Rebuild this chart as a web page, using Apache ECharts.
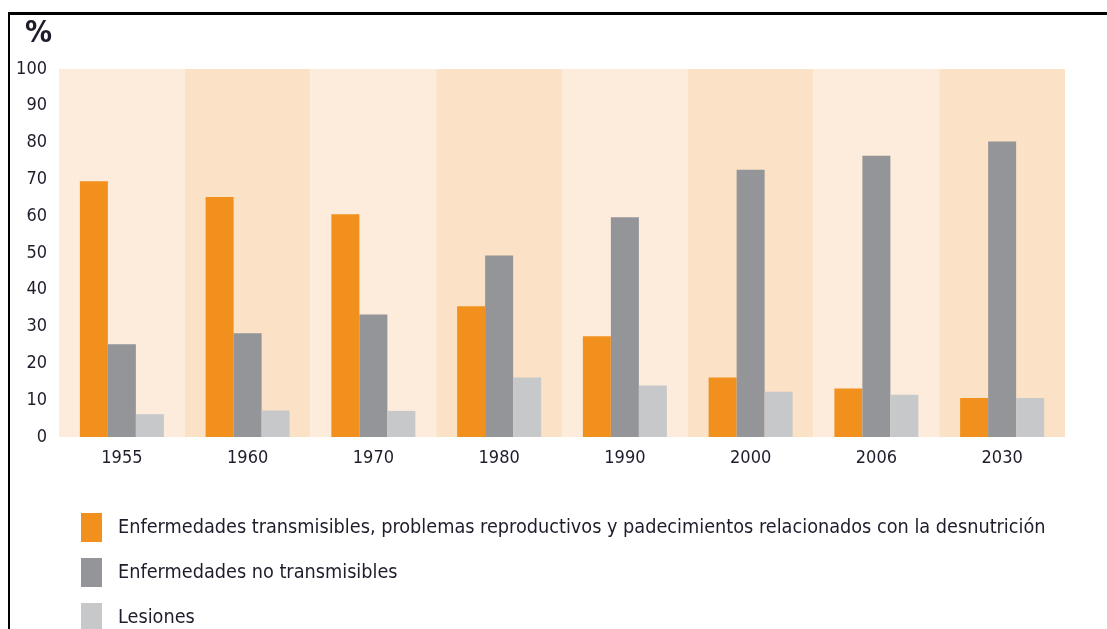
<!DOCTYPE html>
<html>
<head>
<meta charset="utf-8">
<script src="https://cdn.jsdelivr.net/npm/echarts@6/dist/echarts.min.js"></script>
<style>
  html, body { margin: 0; padding: 0; background: #fff; }
  #chart { width: 1107px; height: 629px; }
</style>
</head>
<body>
<div id="chart"></div>
<script>
// años
const years = ['1955', '1960', '1970', '1980', '1990', '2000', '2006', '2030']

// porcentajes por grupo de causas
const transmisibles = [69.5, 65.2, 60.5, 35.5, 27.4, 16.2, 13.2, 10.6]
const noTransmisibles = [25.2, 28.2, 33.3, 49.3, 59.7, 72.6, 76.4, 80.3]
const lesiones = [6.2, 7.2, 7.1, 16.2, 14.0, 12.3, 11.5, 10.6]

const seriesNames = [
  'Enfermedades transmisibles, problemas reproductivos y padecimientos relacionados con la desnutrición',
  'Enfermedades no transmisibles',
  'Lesiones'
]

const textColor = '#1d1d2c'
const narrow = '"DejaVu Sans Condensed", sans-serif'

const chart = echarts.init(document.getElementById('chart'))

chart.setOption({
  animation: false,
  backgroundColor: '#fff',
  grid: { left: 59, right: 42, top: 69, bottom: 192 },
  legend: {
    orient: 'vertical',
    left: 76,
    top: 508,
    height: 160,
    itemWidth: 21,
    itemHeight: 29,
    itemGap: 16,
    icon: 'rect',
    textStyle: {
      fontFamily: narrow,
      fontSize: 19.7,
      color: textColor,
      padding: [2, 0, 0, 11]
    },
    data: seriesNames
  },
  xAxis: {
    type: 'category',
    data: years,
    axisLine: { show: false },
    axisTick: { show: false },
    axisLabel: { margin: 12, fontSize: 18, fontFamily: narrow, color: textColor },
    splitArea: { show: true, areaStyle: { color: ['#fdecdc', '#fbe1c5'] } }
  },
  yAxis: {
    type: 'value',
    min: 0,
    max: 100,
    interval: 10,
    axisLine: { show: false },
    axisTick: { show: false },
    axisLabel: { margin: 12, fontSize: 18, fontFamily: narrow, color: textColor },
    splitLine: { show: true, lineStyle: { color: '#ffffff', width: 2 } }
  },
  series: [
    { name: seriesNames[0], type: 'bar', data: transmisibles, barWidth: 28, barGap: '0%', itemStyle: { color: '#f2901e' } },
    { name: seriesNames[1], type: 'bar', data: noTransmisibles, barWidth: 28, barGap: '0%', itemStyle: { color: '#939598' } },
    { name: seriesNames[2], type: 'bar', data: lesiones, barWidth: 28, barGap: '0%', itemStyle: { color: '#c7c8ca' } }
  ],
  graphic: [
    { type: 'rect', shape: { x: 8, y: 12, width: 1099, height: 3 }, style: { fill: '#000' } },
    { type: 'rect', shape: { x: 8, y: 12, width: 2, height: 617 }, style: { fill: '#000' } },
    {
      type: 'text', left: 25, top: 19,
      style: { text: '%', fontSize: 30, fontWeight: 'bold', fontFamily: narrow, fill: textColor }
    }
  ]
})

window.addEventListener('resize', () => chart.resize())
</script>
</body>
</html>
